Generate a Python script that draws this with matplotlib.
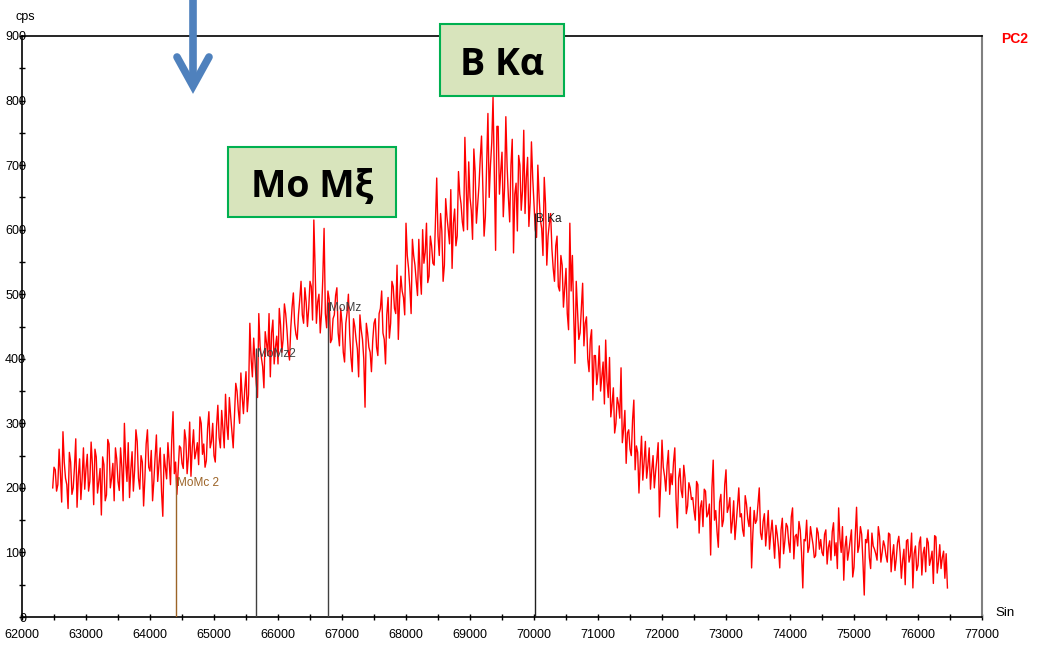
import matplotlib
matplotlib.use('Agg')
import matplotlib.pyplot as plt
import numpy as np
from matplotlib.patches import Rectangle
from matplotlib.lines import Line2D
from matplotlib.ticker import MultipleLocator

plt.rcParams['font.family'] = ['Liberation Sans', 'DejaVu Sans']

# scan: sin from 62480, one reading every 20
# cps_a = readings at 62480, 62520, ...   cps_b = readings at 62500, 62540, ...
sin_start = 62480
sin_step = 20
cps_a = [
    200, 228, 205, 222, 287, 215, 168, 240, 200, 276, 218, 182, 262, 230, 195, 271, 174, 248, 210, 158, 236, 189, 268, 215, 180,
    245, 196, 232, 300, 210, 185, 256, 228, 272, 198, 240, 215, 290, 226, 180, 248, 210, 262, 156, 232, 270, 205, 318, 240, 226,
    262, 230, 275, 248, 218, 290, 256, 236, 300, 268, 242, 318, 272, 250, 296, 278, 320, 262, 298, 340, 288, 312, 350, 300, 342,
    352, 318, 455, 372, 398, 340, 420, 388, 442, 405, 372, 460, 418, 392, 452, 430, 470, 412, 448, 502, 438, 468, 520, 455, 488,
    478, 512, 615, 455, 500, 470, 602, 448, 492, 430, 468, 510, 420, 455, 395, 472, 438, 380, 450, 415, 468, 430, 325, 440, 410,
    428, 462, 405, 478, 440, 392, 495, 455, 512, 470, 430, 528, 495, 610, 540, 470, 560, 520, 585, 500, 548, 610, 528, 575, 545,
    680, 560, 598, 545, 620, 578, 540, 632, 590, 655, 612, 743, 600, 650, 585, 690, 640, 710, 665, 620, 780, 700, 805, 568, 760,
    690, 620, 775, 650, 700, 564, 672, 715, 630, 754, 680, 605, 736, 640, 588, 650, 602, 681, 545, 610, 570, 520, 590, 505, 545,
    510, 470, 610, 560, 393, 475, 440, 517, 455, 400, 430, 336, 405, 380, 350, 395, 429, 340, 310, 355, 300, 330, 386, 290, 238,
    290, 250, 336, 265, 192, 280, 240, 215, 262, 228, 200, 245, 155, 274, 218, 235, 190, 205, 262, 138, 230, 185, 215, 172, 200,
    185, 150, 205, 170, 140, 195, 160, 96, 243, 165, 108, 190, 150, 228, 170, 130, 180, 145, 200, 160, 125, 175, 140, 76, 165,
    150, 200, 120, 160, 135, 105, 150, 91, 128, 76, 153, 118, 140, 100, 169, 125, 110, 135, 45, 118, 100, 140, 112, 95, 130,
    120, 95, 135, 108, 88, 146, 115, 169, 100, 57, 125, 102, 135, 77, 170, 110, 128, 34, 115, 92, 130, 105, 88, 125, 100,
    110, 85, 128, 95, 72, 115, 100, 88, 50, 120, 95, 45, 110, 80, 124, 98, 70, 115, 90, 52, 124, 85, 75, 102, 98,
]
cps_b = [
    232, 195, 260, 178, 240, 205, 255, 190, 232, 170, 245, 215, 198, 252, 210, 236, 260, 192, 230, 248, 180, 275, 200, 238, 262,
    210, 262, 180, 240, 270, 228, 195, 290, 215, 250, 172, 268, 232, 258, 210, 282, 236, 195, 252, 214, 240, 275, 222, 190, 265,
    238, 290, 222, 302, 262, 245, 270, 310, 252, 232, 292, 262, 300, 240, 328, 262, 290, 345, 275, 312, 262, 362, 320, 378, 315,
    380, 345, 400, 432, 362, 470, 402, 355, 425, 470, 440, 392, 435, 478, 410, 485, 445, 398, 480, 455, 430, 492, 468, 510, 450,
    520, 460, 540, 488, 440, 525, 470, 505, 425, 462, 498, 440, 478, 410, 455, 500, 402, 462, 430, 372, 445, 400, 455, 418, 380,
    455, 418, 470, 505, 430, 468, 432, 520, 478, 545, 492, 505, 468, 560, 510, 585, 545, 498, 532, 600, 565, 518, 590, 548, 610,
    590, 625, 520, 648, 600, 662, 610, 575, 690, 640, 598, 672, 705, 630, 725, 610, 668, 745, 590, 700, 650, 735, 690, 760, 655,
    720, 665, 698, 612, 740, 655, 598, 700, 660, 625, 712, 642, 680, 600, 700, 615, 560, 640, 590, 625, 540, 575, 512, 560, 480,
    540, 445, 505, 470, 520, 430, 480, 420, 465, 380, 445, 405, 360, 420, 372, 330, 365, 402, 330, 285, 340, 308, 270, 320, 285,
    260, 305, 228, 255, 240, 212, 272, 235, 198, 250, 225, 270, 208, 232, 195, 258, 222, 240, 180, 215, 196, 235, 160, 208, 182,
    165, 210, 130, 180, 198, 155, 175, 200, 150, 132, 178, 140, 205, 162, 185, 148, 120, 172, 155, 135, 188, 152, 170, 130, 145,
    175, 130, 148, 110, 165, 130, 120, 142, 108, 135, 98, 145, 115, 155, 90, 128, 148, 100, 120, 150, 108, 125, 92, 138, 105,
    100, 128, 82, 118, 132, 95, 75, 122, 140, 108, 88, 118, 62, 128, 100, 140, 85, 120, 135, 75, 110, 98, 140, 85, 118,
    95, 130, 70, 112, 90, 125, 60, 105, 118, 85, 130, 98, 72, 115, 65, 108, 122, 80, 102, 126, 68, 112, 92, 60, 45,
]
cps = np.column_stack([cps_a, cps_b]).ravel()
sin = sin_start + sin_step * np.arange(len(cps))

# element lines
line_names = ['MoMc 2', 'MoMz2', 'MoMz', 'B Ka']
line_pos = [64400, 65660, 66780, 70020]
line_top = [217, 417, 488, 626]
line_colors = ['#9C6428', '#404040', '#404040', '#202020']

box_labels = ['Mo M\u03be', 'B K\u03b1']

W, H = 1038, 649
fig = plt.figure(figsize=(W / 100, H / 100), dpi=100)
ax = fig.add_axes([22 / W, 32 / H, 960 / W, 581 / H])

ax.plot(sin, cps, color='red', lw=1.0, zorder=2)
ax.vlines(line_pos, 0, line_top, colors=line_colors, lw=1.0, zorder=3)
for name, xp, top, c in zip(line_names, line_pos, line_top, line_colors):
    ax.text(xp + 15, top, name, fontsize=8.5, color=c, ha='left', va='top', zorder=4)

ax.set_xlim(62000, 77000)
ax.set_ylim(0, 900)
ax.xaxis.set_major_locator(MultipleLocator(1000))
ax.xaxis.set_minor_locator(MultipleLocator(500))
ax.yaxis.set_major_locator(MultipleLocator(100))
ax.yaxis.set_minor_locator(MultipleLocator(50))
ax.tick_params(which='both', direction='inout', length=5, width=1, labelsize=9)
ax.tick_params(axis='y', pad=-5.5)
ax.tick_params(axis='x', pad=6)

for s in ['left', 'bottom', 'top']:
    ax.spines[s].set_linewidth(1.2)
    ax.spines[s].set_color('black')
ax.spines['right'].set_linewidth(1.5)
ax.spines['right'].set_color('#808080')

fig.text(15 / W, 1 - 17 / H, 'cps', fontsize=9, ha='left', va='center')
fig.text(995 / W, 1 - 613 / H, 'Sin', fontsize=9.5, ha='left', va='center')
fig.text(1001 / W, 1 - 39 / H, 'PC2', fontsize=10, color='red', fontweight='bold', ha='left', va='center')

# blue arrow
arrow_c = '#4F81BD'
fig.add_artist(Line2D([193 / W, 193 / W], [1.0, 1 - 84 / H], transform=fig.transFigure,
                      color=arrow_c, lw=5.5, solid_capstyle='butt'))
fig.add_artist(Line2D([177 / W, 193 / W, 209 / W], [1 - 57 / H, 1 - 86 / H, 1 - 57 / H],
                      transform=fig.transFigure, color=arrow_c, lw=5.5,
                      solid_capstyle='round', solid_joinstyle='miter'))

# label boxes
boxes = [(228, 147, 396, 217), (440, 24, 564, 96)]
text_pos = [(312, 197), (502, 75)]
for (x0, y0, x1, y1), (tx, ty), lab in zip(boxes, text_pos, box_labels):
    fig.add_artist(Rectangle((x0 / W, 1 - y1 / H), (x1 - x0) / W, (y1 - y0) / H,
                             transform=fig.transFigure, facecolor='#D8E4BC',
                             edgecolor='#00B050', lw=1.5, zorder=5))
    fig.text(tx / W, 1 - ty / H, lab, fontsize=27, fontweight='bold',
             family=['Open Sans', 'DejaVu Sans'], ha='center', va='baseline', zorder=6)

fig.savefig('out.png', dpi=100)
